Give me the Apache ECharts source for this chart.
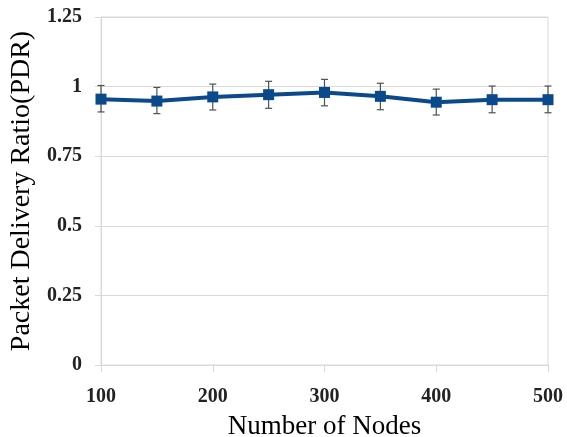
<!DOCTYPE html>
<html>
<head>
<meta charset="utf-8">
<script src="https://cdn.jsdelivr.net/npm/echarts@6/dist/echarts.min.js"></script>
<style>
html,body{margin:0;padding:0;background:#fff;}
#chart{width:567px;height:437px;}
</style>
</head>
<body>
<div id="chart"></div>
<script>
var nodes = [100, 150, 200, 250, 300, 350, 400, 450, 500];
var pdr = [0.955, 0.948, 0.963, 0.971, 0.979, 0.965, 0.944, 0.953, 0.953];
var errLow = [0.909, 0.903, 0.916, 0.922, 0.931, 0.917, 0.898, 0.906, 0.906];
var errHigh = [1.004, 0.997, 1.009, 1.019, 1.026, 1.012, 0.991, 1.002, 1.002];
var yTicks = [0, 0.25, 0.5, 0.75, 1, 1.25];

var lineData = nodes.map(function (n, i) { return [n, pdr[i]]; });
var errData = nodes.map(function (n, i) { return [n, errLow[i], errHigh[i]]; });

var chart = echarts.init(document.getElementById('chart'));
var font = '"Liberation Serif", "Times New Roman", serif';
chart.setOption({
  animation: false,
  grid: {
    left: 101, right: 19, top: 17, bottom: 72,
    outerBoundsMode: 'none', containLabel: false,
    show: true, borderColor: '#d9d9d9', borderWidth: 1
  },
  xAxis: {
    type: 'value', min: 100, max: 500, interval: 100,
    name: 'Number of Nodes', nameLocation: 'middle', nameGap: 48,
    nameTextStyle: { fontFamily: font, fontSize: 27, color: '#000' },
    axisLine: { show: true, lineStyle: { color: '#d9d9d9', width: 1 } },
    axisTick: { show: true, length: 7, lineStyle: { color: '#d9d9d9' } },
    axisLabel: { fontFamily: font, fontSize: 20, fontWeight: 'bold', color: '#222', margin: 22 },
    splitLine: { show: false }
  },
  yAxis: {
    type: 'value', min: 0, max: 1.25, interval: 0.25,
    name: 'Packet Delivery Ratio(PDR)', nameLocation: 'middle', nameGap: 56,
    nameTextStyle: { fontFamily: font, fontSize: 28, color: '#000' },
    axisLine: { show: true, lineStyle: { color: '#d9d9d9', width: 1 } },
    axisTick: { show: true, length: 6, lineStyle: { color: '#d9d9d9' } },
    axisLabel: {
      fontFamily: font, fontSize: 20, fontWeight: 'bold', color: '#222', margin: 19,
      formatter: function (v) { return String(v); }
    },
    splitLine: { show: true, lineStyle: { color: '#d9d9d9', width: 1 } }
  },
  series: [
    {
      type: 'custom',
      z: 1,
      data: errData,
      renderItem: function (params, api) {
        var x = api.value(0);
        var lo = api.coord([x, api.value(1)]);
        var hi = api.coord([x, api.value(2)]);
        var hw = 3.5;
        var style = { stroke: '#505050', lineWidth: 1.2 };
        return {
          type: 'group',
          children: [
            { type: 'line', shape: { x1: lo[0], y1: lo[1], x2: hi[0], y2: hi[1] }, style: style },
            { type: 'line', shape: { x1: lo[0] - hw, y1: lo[1], x2: lo[0] + hw, y2: lo[1] }, style: style },
            { type: 'line', shape: { x1: hi[0] - hw, y1: hi[1], x2: hi[0] + hw, y2: hi[1] }, style: style }
          ]
        };
      }
    },
    {
      type: 'line',
      z: 3,
      data: lineData,
      symbol: 'rect',
      symbolSize: 11,
      lineStyle: { color: '#0a4a8c', width: 4 },
      itemStyle: { color: '#0a4a8c' }
    }
  ]
});
</script>
</body>
</html>
